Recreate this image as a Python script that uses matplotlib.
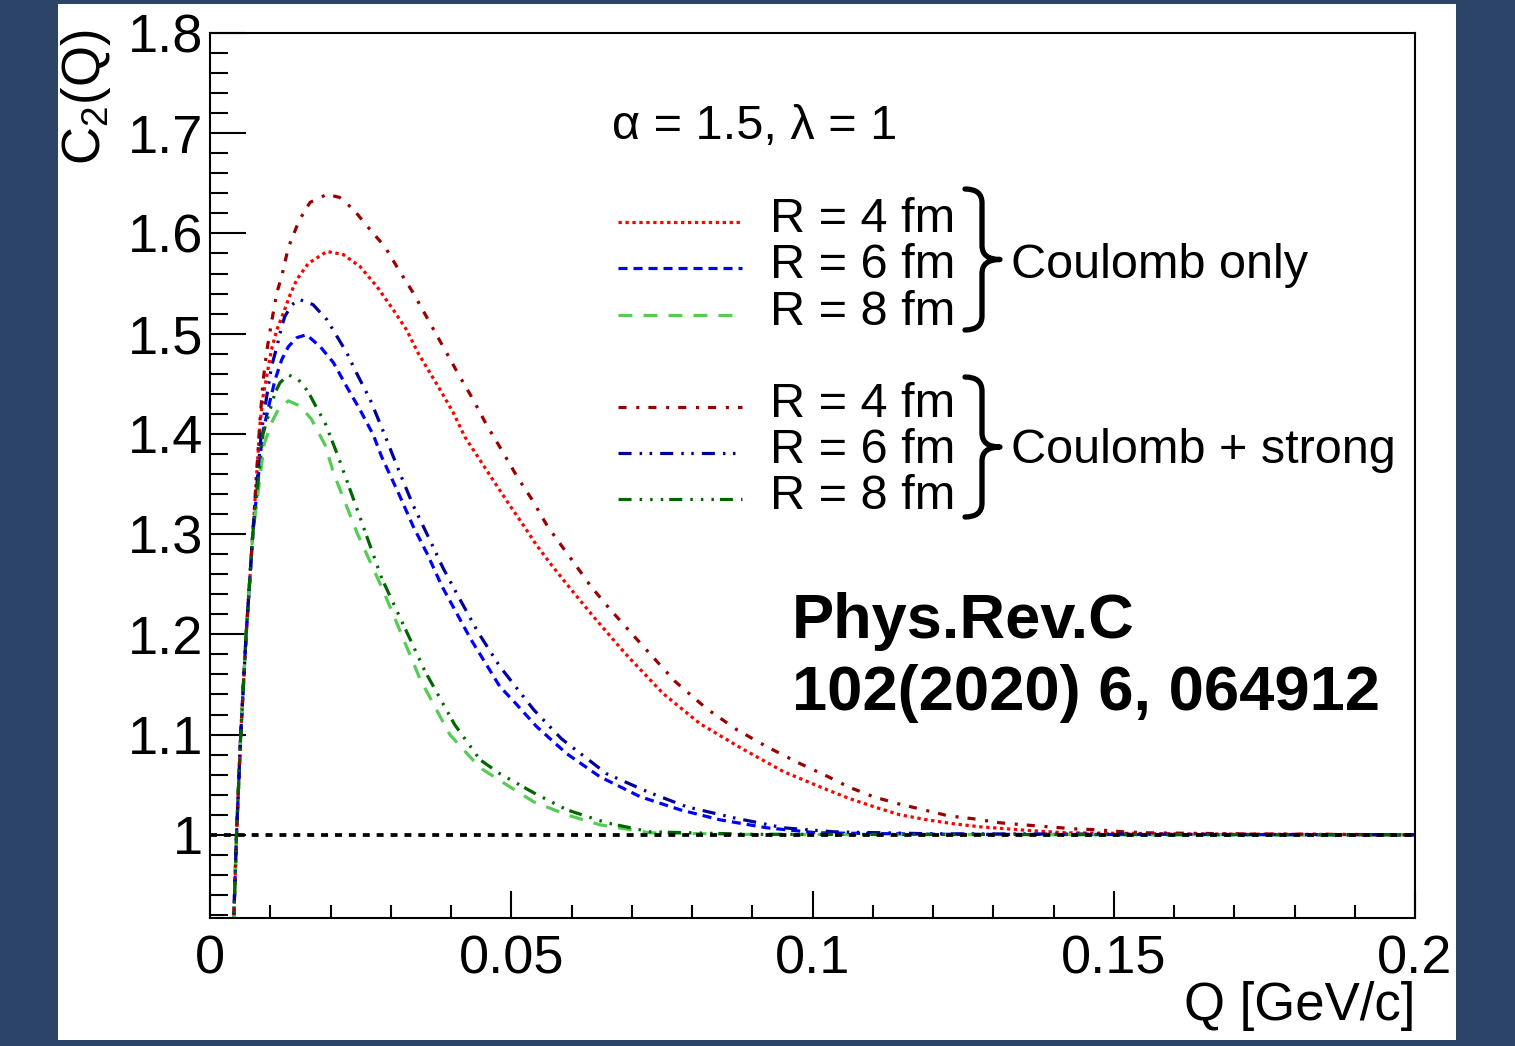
"""
C2(Q) for Levy source, Coulomb only vs Coulomb + strong
"""
import numpy as np
import matplotlib
matplotlib.use("Agg")
import matplotlib.pyplot as plt
from matplotlib.patches import Rectangle, PathPatch
from matplotlib.path import Path
from matplotlib.lines import Line2D
from matplotlib.transforms import Affine2D

# values
# Coulomb only
q_c4 = [0.0038, 0.0044, 0.0051, 0.0060, 0.0071, 0.0083, 0.0088, 0.0094, 0.0102, 0.0111,
        0.0122, 0.0133, 0.0144, 0.0163, 0.0194, 0.0221, 0.0249, 0.0277, 0.0304, 0.0326,
        0.0346, 0.0382, 0.0404, 0.0423, 0.0448, 0.0473, 0.0495, 0.0520, 0.0542, 0.0567,
        0.0595, 0.0636, 0.0689, 0.0752, 0.0813, 0.0880, 0.0952, 0.1024, 0.1062, 0.1107,
        0.1145, 0.1190, 0.1234, 0.1278, 0.1322, 0.1366, 0.1422, 0.160, 0.200]
c2_c4 = [0.89, 1.0, 1.1, 1.2, 1.3, 1.41, 1.437, 1.457, 1.484, 1.504,
         1.521, 1.539, 1.554, 1.570, 1.582, 1.579, 1.567, 1.547, 1.524, 1.504,
         1.480, 1.444, 1.421, 1.397, 1.374, 1.351, 1.331, 1.309, 1.289, 1.269,
         1.248, 1.218, 1.181, 1.141, 1.111, 1.087, 1.063, 1.045, 1.036, 1.027,
         1.020, 1.015, 1.011, 1.008, 1.006, 1.004, 1.002, 1.001, 1.000]

q_c6 = [0.0038, 0.0044, 0.0051, 0.0060, 0.0071, 0.0087, 0.0100, 0.0108, 0.0119, 0.0130,
        0.0144, 0.0160, 0.0183, 0.0205, 0.0227, 0.0249, 0.0271, 0.0285, 0.0315, 0.0337,
        0.0360, 0.0385, 0.0433, 0.0481, 0.0506, 0.0542, 0.0592, 0.0647, 0.0714, 0.0780,
        0.0846, 0.0924, 0.1007, 0.120, 0.200]
c2_c6 = [0.89, 1.0, 1.1, 1.2, 1.3, 1.4, 1.434, 1.454, 1.474, 1.487,
         1.496, 1.499, 1.487, 1.471, 1.447, 1.424, 1.399, 1.377, 1.338, 1.308,
         1.281, 1.248, 1.195, 1.148, 1.132, 1.108, 1.081, 1.058, 1.038, 1.025,
         1.015, 1.007, 1.002, 1.0005, 1.000]

q_c8 = [0.0038, 0.0044, 0.0051, 0.0060, 0.0071, 0.0090, 0.0102, 0.0113, 0.0130, 0.0149,
        0.0168, 0.0183, 0.0191, 0.0205, 0.0245, 0.0288, 0.0349, 0.0398, 0.0448, 0.0492,
        0.0537, 0.0592, 0.0647, 0.0730, 0.090, 0.200]
c2_c8 = [0.89, 1.0, 1.1, 1.2, 1.3, 1.39, 1.411, 1.424, 1.433, 1.428,
         1.415, 1.398, 1.389, 1.361, 1.300, 1.243, 1.155, 1.100, 1.067, 1.050,
         1.033, 1.020, 1.010, 1.002, 1.0003, 1.000]

# Coulomb + strong
q_s4 = [0.0038, 0.0044, 0.0051, 0.0060, 0.0071, 0.0083, 0.0088, 0.0094, 0.0102, 0.0111,
        0.0119, 0.0130, 0.0148, 0.0166, 0.0194, 0.0215, 0.0238, 0.0271, 0.0290, 0.0315,
        0.0337, 0.0362, 0.0387, 0.0411, 0.0436, 0.0460, 0.0485, 0.0510, 0.0535, 0.0560,
        0.0584, 0.0613, 0.0632, 0.0664, 0.0719, 0.0772, 0.0824, 0.0874, 0.0924, 0.0976,
        0.1026, 0.1059, 0.1101, 0.1142, 0.1184, 0.1225, 0.1267, 0.1311, 0.1350, 0.1391,
        0.1433, 0.1474, 0.1516, 0.1555, 0.170, 0.200]
c2_s4 = [0.89, 1.0, 1.1, 1.2, 1.3, 1.414, 1.452, 1.482, 1.511, 1.541,
         1.557, 1.586, 1.613, 1.631, 1.639, 1.636, 1.624, 1.600, 1.587, 1.562,
         1.541, 1.514, 1.487, 1.461, 1.435, 1.408, 1.383, 1.357, 1.334, 1.308,
         1.288, 1.264, 1.248, 1.225, 1.188, 1.153, 1.126, 1.105, 1.088, 1.072,
         1.058, 1.048, 1.038, 1.031, 1.025, 1.019, 1.016, 1.012, 1.010, 1.008,
         1.006, 1.005, 1.003, 1.002, 1.001, 1.000]

q_s6 = [0.0038, 0.0044, 0.0051, 0.0060, 0.0071, 0.0085, 0.0094, 0.0102, 0.0111, 0.0119,
        0.0124, 0.0136, 0.0149, 0.0171, 0.0194, 0.0227, 0.0243, 0.0266, 0.0290, 0.0315,
        0.0337, 0.0365, 0.0387, 0.0412, 0.0445, 0.0481, 0.0537, 0.0583, 0.0658, 0.0730,
        0.0791, 0.0869, 0.0952, 0.1035, 0.120, 0.200]
c2_s6 = [0.89, 1.0, 1.1, 1.2, 1.3, 1.4, 1.437, 1.467, 1.487, 1.507,
         1.517, 1.529, 1.534, 1.529, 1.514, 1.481, 1.461, 1.434, 1.399, 1.361,
         1.329, 1.294, 1.266, 1.238, 1.202, 1.168, 1.125, 1.096, 1.061, 1.042,
         1.028, 1.017, 1.007, 1.003, 1.001, 1.000]

q_s8 = [0.0038, 0.0044, 0.0051, 0.0060, 0.0071, 0.0088, 0.0108, 0.0116, 0.0130, 0.0147,
        0.0163, 0.0177, 0.0191, 0.0213, 0.0250, 0.0285, 0.0357, 0.0406, 0.0448, 0.0481,
        0.0537, 0.0592, 0.0658, 0.0730, 0.090, 0.200]
c2_s8 = [0.89, 1.0, 1.1, 1.2, 1.3, 1.4, 1.441, 1.451, 1.459, 1.454,
         1.442, 1.426, 1.411, 1.377, 1.315, 1.256, 1.163, 1.110, 1.075, 1.061,
         1.042, 1.025, 1.012, 1.003, 1.0005, 1.000]

legend_labels = ["R = 4 fm", "R = 6 fm", "R = 8 fm"]
group_labels = ["Coulomb only", "Coulomb + strong"]

xticks = [0, 0.05, 0.1, 0.15, 0.2]
xtick_labels = ["0", "0.05", "0.1", "0.15", "0.2"]
yticks = [1.0, 1.1, 1.2, 1.3, 1.4, 1.5, 1.6, 1.7, 1.8]
ytick_labels = ["1", "1.1", "1.2", "1.3", "1.4", "1.5", "1.6", "1.7", "1.8"]

plt.rcParams['font.family'] = ['Liberation Sans', 'DejaVu Sans']
plt.rcParams['mathtext.fontset'] = 'custom'
plt.rcParams['mathtext.rm'] = 'Liberation Sans'
plt.rcParams['mathtext.it'] = 'Liberation Sans:italic'
plt.rcParams['lines.scale_dashes'] = False

W, H = 1515, 1046


def fx(x):
    return x / W


def fy(y):
    # pixel row from the top -> figure fraction
    return 1 - y / H


fig = plt.figure(figsize=(W / 100, H / 100), dpi=100)
fig.patch.set_facecolor('#2b4468')
fig.patches.append(Rectangle((fx(58), fy(1040)), (1456 - 58) / W, (1040 - 4) / H,
                             transform=fig.transFigure, facecolor='white',
                             edgecolor='none', zorder=-5))

ax = fig.add_axes([fx(210), fy(918), (1415 - 210) / W, (918 - 33) / H])
ax.set_facecolor('white')

# styles: (color, dash pattern in points)
st_c4 = ('#ff0000', (0, (2.4, 2.6)))
st_c6 = ('#0000ff', (0, (6.5, 4.3)))
st_c8 = ('#55cc55', (0, (10, 8)))
st_s4 = ('#990000', (0, (5.8, 7.0, 2.2, 6.5)))
st_s6 = ('#000099', (0, (9.4, 5.8, 1.8, 5.4, 1.8, 5.8)))
st_s8 = ('#006600', (0, (9.4, 5.8, 1.8, 5.8, 1.8, 5.8, 1.8, 4.3)))
lw = 2.3

curves = [(q_c4, c2_c4, st_c4), (q_c6, c2_c6, st_c6), (q_c8, c2_c8, st_c8),
          (q_s4, c2_s4, st_s4), (q_s6, c2_s6, st_s6), (q_s8, c2_s8, st_s8)]
for q, c2, (col, ls) in curves:
    ax.plot(q, c2, color=col, linestyle=ls, lw=lw)

ax.axhline(1.0, color='black', linestyle=(0, (5, 5)), lw=2.7, zorder=5)

ax.set_xlim(0, 0.2)
ax.set_ylim(0.917, 1.8)
ax.set_xticks(xticks)
ax.set_xticklabels(xtick_labels)
ax.set_yticks(yticks)
ax.set_yticklabels(ytick_labels)
ax.set_xticks(np.arange(0.01, 0.2, 0.01), minor=True)
ax.set_yticks(np.arange(0.92, 1.8, 0.02), minor=True)

for s in ax.spines.values():
    s.set_linewidth(1.5)
ax.tick_params(axis='both', which='both', direction='in', width=1.5,
               top=False, right=False, labelsize=39)
ax.tick_params(axis='y', which='major', length=26, pad=5)
ax.tick_params(axis='y', which='minor', length=13)
ax.tick_params(axis='x', which='major', length=19.5, pad=12)
ax.tick_params(axis='x', which='minor', length=9.5)

# axis titles
fig.text(fx(1415), fy(1020), "Q [GeV/c]", ha='right', va='baseline', fontsize=38)
fig.text(fx(86), fy(30), r"C$_{\mathrm{2}}$(Q)", rotation=90, ha='center', va='top',
         fontsize=38)

fig.text(fx(612), fy(139), "\u03b1 = 1.5, \u03bb = 1", ha='left', va='baseline',
         fontsize=35)

# legend
fs = 35
rows1 = [(222, 232), (268, 278), (315, 325)]
rows2 = [(407, 417), (453, 463), (499, 509)]
for styles, rows in [((st_c4, st_c6, st_c8), rows1), ((st_s4, st_s6, st_s8), rows2)]:
    for (col, ls), lab, (ly, by) in zip(styles, legend_labels, rows):
        fig.add_artist(Line2D([fx(618), fx(742)], [fy(ly), fy(ly)], color=col,
                              linestyle=ls, lw=lw, transform=fig.transFigure))
        fig.text(fx(770), fy(by), lab, ha='left', va='baseline', fontsize=fs)


def brace(top, bottom, x0=965, x1=982, x2=1000):
    """Curly brace pointing right, coordinates in pixels from the top-left."""
    r = 14
    ym = (top + bottom) / 2
    pts = [(x0, top), (x1, top), (x1, top + r),
           (x1, ym - r), (x1, ym), (x2, ym),
           (x1, ym), (x1, ym + r),
           (x1, bottom - r), (x1, bottom), (x0, bottom)]
    codes = [Path.MOVETO, Path.CURVE3, Path.CURVE3,
             Path.LINETO, Path.CURVE3, Path.CURVE3,
             Path.CURVE3, Path.CURVE3,
             Path.LINETO, Path.CURVE3, Path.CURVE3]
    verts = [(x, H - y) for x, y in pts]
    tr = Affine2D().scale(1 / W, 1 / H) + fig.transFigure
    fig.patches.append(PathPatch(Path(verts, codes), facecolor='none',
                                 edgecolor='black', lw=3.8, transform=tr,
                                 capstyle='round', joinstyle='round'))


brace(189, 330)
brace(377, 517)
fig.text(fx(1011), fy(278), group_labels[0], ha='left', va='baseline', fontsize=fs)
fig.text(fx(1011), fy(463), group_labels[1], ha='left', va='baseline', fontsize=fs)

fig.text(fx(792), fy(638), "Phys.Rev.C", ha='left', va='baseline', fontsize=45.5,
         fontweight='bold')
fig.text(fx(792), fy(710), "102(2020) 6, 064912", ha='left', va='baseline', fontsize=45.5,
         fontweight='bold')

fig.savefig("out.png", dpi=100, facecolor=fig.get_facecolor())
